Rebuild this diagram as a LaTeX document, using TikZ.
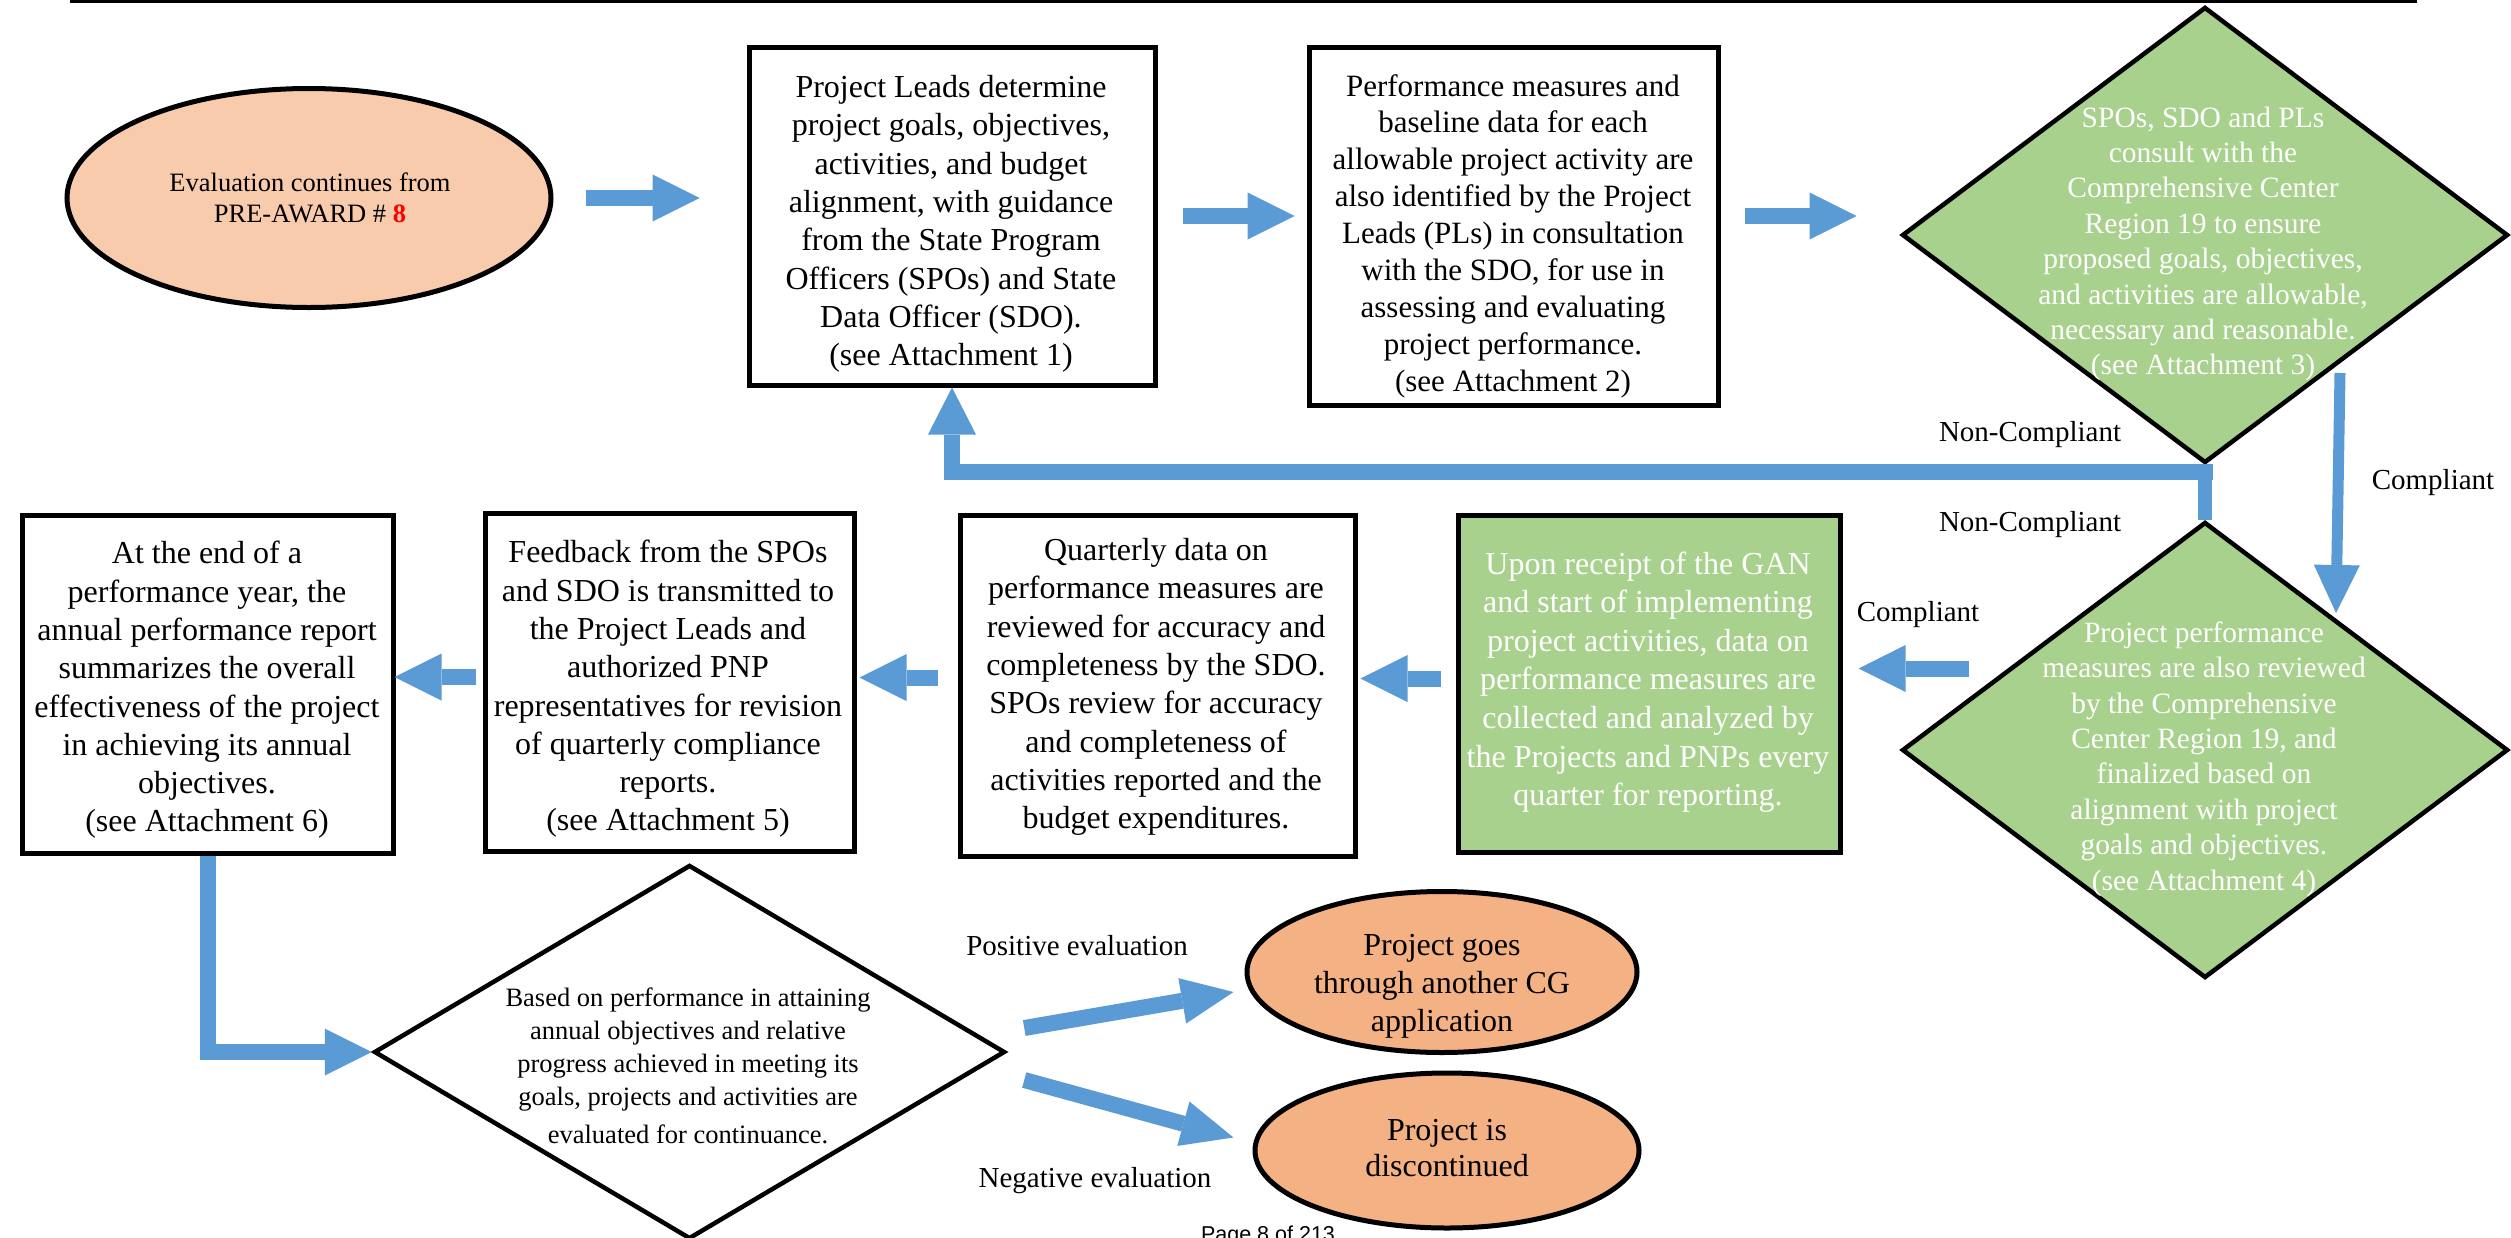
\documentclass[tikz,border=0pt]{standalone}
\usepackage{fontspec}
\setmainfont{Liberation Serif}
\newfontfamily\pagesans{Liberation Sans}
\usetikzlibrary{shapes.geometric,arrows.meta,calc}
\definecolor{arrblue}{HTML}{5B9BD5}
\definecolor{grn}{HTML}{A9D18E}
\definecolor{peachlt}{HTML}{F8CBAD}
\definecolor{peach}{HTML}{F4B183}
\begin{document}
\begin{tikzpicture}[x=1pt,y=-1pt,
  boxnode/.style={draw=black, line width=5pt, fill=white, inner sep=0pt},
  greenbox/.style={boxnode, fill=grn},
  decision/.style={diamond, draw=black, line width=4.5pt, inner sep=0pt, minimum width=606pt, minimum height=456pt},
  oval/.style={ellipse, draw=black, line width=5pt, inner sep=0pt},
  txt/.style={align=center, inner sep=0pt, font=\fontsize{32}{38.3}\selectfont},
  wtxt/.style={txt, text=white},
  dtxt/.style={align=center, inner sep=0pt, text=white, font=\fontsize{29.5}{35.4}\selectfont},
  lbl/.style={inner sep=0pt, font=\fontsize{29}{34}\selectfont},
  blockarrow/.style={draw=arrblue, line width=16pt, line join=miter, -{Triangle[length=47pt,width=47pt,line width=0pt]}},
  slimarrow/.style={draw=arrblue, line width=11pt, -{Triangle[length=48pt,width=46pt,line width=0pt]}},
]
\path[use as bounding box, fill=white] (0,0) rectangle (2511,1237);
\clip (0,0) rectangle (2511,1237);

% top rule
\draw[line width=3pt] (70,1.5) -- (2417,1.5);

% top row
\node[oval, fill=peachlt, minimum width=484pt, minimum height=219pt] (e1) at (309,198) {};
\node[align=center, inner sep=0pt, font=\fontsize{26.5}{31}\selectfont] (e1t) at (310,198)
  {Evaluation continues from\\PRE-AWARD \# {\color{red}\bfseries 8}};

\node[boxnode, minimum width=406pt, minimum height=338pt] (b1) at (952,216) {};
\node[txt] (b1t) at (951,224) {Project Leads determine\\project goals, objectives,\\activities, and budget\\alignment, with guidance\\from the State Program\\Officers (SPOs) and State\\Data Officer (SDO).\\(see Attachment 1)};

\node[boxnode, minimum width=409pt, minimum height=358pt] (b2) at (1513.5,226) {};
\node[txt, font=\fontsize{31}{36.9}\selectfont] (b2t) at (1513,236) {Performance measures and\\baseline data for each\\allowable project activity are\\also identified by the Project\\Leads (PLs) in consultation\\with the SDO, for use in\\assessing and evaluating\\project performance.\\(see Attachment 2)};

\node[decision, fill=grn] (d1) at (2205,235) {};
\node[dtxt] (d1t) at (2203,244) {SPOs, SDO and PLs\\consult with the\\Comprehensive Center\\Region 19 to ensure\\proposed goals, objectives,\\and activities are allowable,\\necessary and reasonable.\\(see Attachment 3)};

% middle row
\node[decision, fill=grn] (d2) at (2205,750) {};
\node[dtxt] (d2t) at (2204,759) {Project performance\\measures are also reviewed\\by the Comprehensive\\Center Region 19, and\\finalized based on\\alignment with project\\goals and objectives.\\(see Attachment 4)};

\node[greenbox, minimum width=382pt, minimum height=337pt] (g) at (1649,683.5) {};
\node[wtxt, font=\fontsize{32}{38.6}\selectfont] (gt) at (1648,682) {Upon receipt of the GAN\\and start of implementing\\project activities, data on\\performance measures are\\collected and analyzed by\\the Projects and PNPs every\\quarter for reporting.};

\node[boxnode, minimum width=395pt, minimum height=341pt] (q) at (1157.5,685.5) {};
\node[txt] (qt) at (1156,687) {Quarterly data on\\performance measures are\\reviewed for accuracy and\\completeness by the SDO.\\SPOs review for accuracy\\and completeness of\\activities reported and the\\budget expenditures.};

\node[boxnode, minimum width=369pt, minimum height=338pt] (f) at (669.5,682) {};
\node[txt] (ft) at (668,689) {Feedback from the SPOs\\and SDO is transmitted to\\the Project Leads and\\authorized PNP\\representatives for revision\\of quarterly compliance\\reports.\\(see Attachment 5)};

\node[boxnode, minimum width=371pt, minimum height=338pt] (a) at (207.5,684) {};
\node[txt] (at) at (207,690) {At the end of a\\performance year, the\\annual performance report\\summarizes the overall\\effectiveness of the project\\in achieving its annual\\objectives.\\(see Attachment 6)};

% bottom row
\node[diamond, draw=black, line width=4.5pt, fill=white, inner sep=0pt, minimum width=631pt, minimum height=374pt] (d3) at (689.5,1052) {};
\node[align=center, inner sep=0pt, font=\fontsize{26.5}{33}\selectfont] (d3t) at (688,1066) {Based on performance in attaining\\annual objectives and relative\\progress achieved in meeting its\\goals, projects and activities are\\[5pt]evaluated for continuance.};

\node[oval, fill=peach, minimum width=390pt, minimum height=161pt] (e2) at (1442,972) {};
\node[txt, font=\fontsize{32}{38}\selectfont] (e2t) at (1442,986) {Project goes\\through another CG\\application};

\node[oval, fill=peach, minimum width=384pt, minimum height=155pt] (e3) at (1447,1150.5) {};
\node[txt, font=\fontsize{32}{36}\selectfont] (e3t) at (1447,1148) {Project is\\discontinued};

% labels
\node[lbl] (nc1) at (2030,435) {Non-Compliant};
\node[lbl] (c1) at (2433,483) {Compliant};
\node[lbl] (nc2) at (2030,525) {Non-Compliant};
\node[lbl] (c2) at (1918,615) {Compliant};
\node[lbl] (pos) at (1077,946) {Positive evaluation};
\node[lbl] (neg) at (1095,1181) {Negative evaluation};

% connectors
\draw[blockarrow] ($(e1.east)+(32,0)$) -- ++(114,0);
\draw[blockarrow] ($(b1.east)+(25,0)$) -- ++(112,0);
\draw[blockarrow] ($(b2.east)+(24,-10)$) -- ++(112,0);

\draw[draw=arrblue, line width=14pt] (d1.south) -- (d2.north);
\coordinate (ncj) at (2213,472);
\draw[blockarrow, -{Triangle[length=47pt,width=48pt,line width=0pt]}] (ncj) -- (ncj -| b1.south) -- (b1.south);

\draw[slimarrow] ($(d1.center)+(135,138)$) -- ($(d2.center)+(131,-137)$);

\draw[blockarrow] ($(g.east)+(126,-15)$) -- ++(-110,0);
\draw[blockarrow] ($(g.west)+(-15,-5)$) -- ++(-80,0);
\draw[blockarrow] ($(q.west)+(-20,-8)$) -- ++(-78,0);
\draw[blockarrow] ($(f.west)+(-7,-5)$) -- ++(-81,0);

\draw[blockarrow] (a.south) |- (d3.west);

\draw[blockarrow, -{Triangle[length=52pt,width=46pt,line width=0pt]}] ($(d3.east)+(17,-24)$) -- ($(e2.west)+(-11,20)$);
\draw[blockarrow, -{Triangle[length=52pt,width=46pt,line width=0pt]}] ($(d3.east)+(17,28)$) -- ($(e3.west)+(-19,-13)$);

% page footer
\node[anchor=base, inner sep=0pt, font=\pagesans\fontsize{21.5}{25}\selectfont] (pg) at (1268,1241) {Page 8 of 213};
\end{tikzpicture}
\end{document}
